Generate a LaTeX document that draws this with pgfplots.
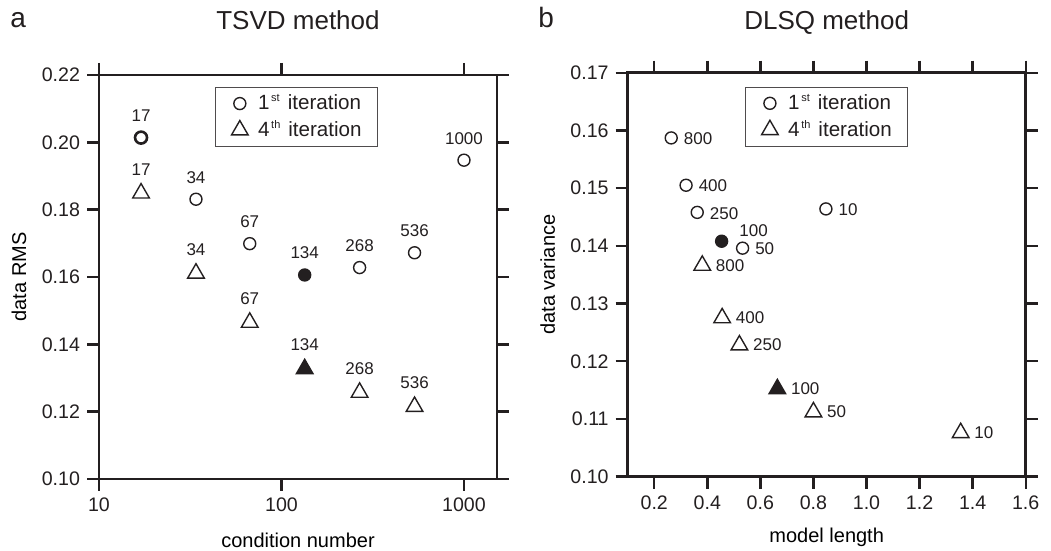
\documentclass[border=0pt]{standalone}
\usepackage{fontspec}
\setmainfont{Liberation Sans}
\usepackage{pgfplots}
\pgfplotsset{compat=1.18}
\definecolor{ink}{RGB}{35,31,32}
\newcommand{\sst}[1]{\hspace{0.8pt}\raisebox{3.8pt}{\fontsize{5.5}{6}\selectfont #1}\hspace{4pt}}
\pgfplotsset{
 myaxis/.style={
  scale only axis, width=199pt, height=202pt,
  axis line style={line width=1.3pt, ink},
  tick align=outside, major tick length=6pt,
  tick style={line width=1.2pt, ink},
  minor tick num=0, xminorticks=false, yminorticks=false,
  ticklabel style={font=\fontsize{9.8}{11}\selectfont, text=ink},
  /pgf/number format/assume math mode=true,
  label style={font=\fontsize{10}{12}\selectfont, text=ink},
  title style={font=\fontsize{13}{15}\selectfont, text=ink, at={(0.5,1)}, anchor=base},
  every axis y label/.style={at={(axis description cs:-0.201,0.5)}, rotate=90, anchor=center},
  every axis x label/.style={at={(axis description cs:0.5,0)}, anchor=center, yshift=-30.5pt},
  legend style={anchor=north west, draw=ink!80, line width=0.5pt,
     inner xsep=8pt, inner ysep=3.5pt, row sep=4pt, column sep=5pt,
     font=\fontsize{10.3}{12}\selectfont, text=ink,
     nodes={inner sep=0pt}},
  legend cell align=left,
  legend image code/.code={\draw[mark repeat=2, mark phase=2, #1] plot coordinates {(0pt,0pt) (5pt,0pt) (10pt,0pt)};},
  clip=false,
  every node near coord/.append style={font=\fontsize{8.5}{10}\selectfont, text=ink, inner sep=0pt},
 },
 circ/.style={only marks, mark=o, mark size=3pt, mark options={line width=0.7pt, draw=ink}},
 tri/.style={only marks, mark=triangle, mark size=4.8pt, mark options={line width=0.7pt, draw=ink}},
}
\begin{document}
\begin{tikzpicture}
\path[use as bounding box] (0,0) rectangle (525.5pt,275.5pt);
\node[anchor=base west, inner sep=0pt, font=\fontsize{14}{16}\selectfont, text=ink] at (5pt,261.5pt) {a};
\node[anchor=base west, inner sep=0pt, font=\fontsize{14}{16}\selectfont, text=ink] at (269pt,261.5pt) {b};

\begin{axis}[myaxis, at={(49.5pt,36pt)}, anchor=south west,
  xmode=log, xmin=10, xmax=1517, ymin=0.10, ymax=0.22,
  xtick={10,100,1000}, xticklabels={10,100,1000},
  ytick={0.10,0.12,0.14,0.16,0.18,0.20,0.22},
  yticklabel style={/pgf/number format/.cd, fixed, fixed zerofill, precision=2},
  title={TSVD method}, title style={yshift=16.5pt},
  xlabel={condition number}, ylabel={data RMS},
  legend style={at={(0.2915,0.970)}}]
\addlegendimage{circ}
\addlegendentry{1\sst{st}iteration}
\addlegendimage{tri}
\addlegendentry{4\sst{th}iteration}
\addplot[circ, forget plot, nodes near coords, point meta=explicit symbolic,
  every node near coord/.append style={anchor=center, yshift=11pt}]
  table[x=x, y=y, meta=l] {
x y l
34 0.1831 34
67 0.1699 67
268 0.1628 268
536 0.1672 536
1000 0.1947 1000
};
\addplot[circ, forget plot, mark options={line width=1.3pt, draw=ink}, nodes near coords, point meta=explicit symbolic,
  every node near coord/.append style={anchor=center, yshift=11pt}]
  table[x=x, y=y, meta=l] {
x y l
17 0.2014 17
};
\addplot[circ, forget plot, mark=*, mark options={line width=0.7pt, draw=ink, fill=ink}, nodes near coords, point meta=explicit symbolic,
  every node near coord/.append style={anchor=center, yshift=11pt}]
  table[x=x, y=y, meta=l] {
x y l
134 0.1606 134
};
\addplot[tri, forget plot, nodes near coords, point meta=explicit symbolic,
  every node near coord/.append style={anchor=center, yshift=12pt}]
  table[x=x, y=y, meta=l] {
x y l
17 0.1849 17
34 0.1611 34
67 0.1465 67
268 0.1257 268
536 0.1215 536
};
\addplot[tri, forget plot, mark=triangle*, mark options={line width=0.7pt, draw=ink, fill=ink}, nodes near coords, point meta=explicit symbolic,
  every node near coord/.append style={anchor=center, yshift=12pt}]
  table[x=x, y=y, meta=l] {
x y l
134 0.1327 134
};
\end{axis}

\begin{axis}[myaxis, at={(313.85pt,37.15pt)}, anchor=south west,
  xmin=0.1, xmax=1.6, ymin=0.10, ymax=0.17,
  xtick={0.2,0.4,0.6,0.8,1.0,1.2,1.4,1.6},
  ytick={0.10,0.11,0.12,0.13,0.14,0.15,0.16,0.17},
  xticklabel style={/pgf/number format/.cd, fixed, fixed zerofill, precision=1},
  yticklabel style={/pgf/number format/.cd, fixed, fixed zerofill, precision=2},
  title={DLSQ method}, title style={yshift=15.7pt},
  xlabel={model length}, ylabel={data variance},
  legend style={at={(0.295,0.965)}}]
\addlegendimage{circ}
\addlegendentry{1\sst{st}iteration}
\addlegendimage{tri}
\addlegendentry{4\sst{th}iteration}
\addplot[circ, forget plot, nodes near coords, point meta=explicit symbolic,
  every node near coord/.append style={anchor=west, xshift=6pt, yshift=-0.4pt}]
  table[x=x, y=y, meta=l] {
x y l
0.264 0.1587 800
0.320 0.1505 400
0.362 0.1458 250
0.533 0.1396 50
0.847 0.1464 10
};
\addplot[circ, forget plot, mark=*, mark options={line width=0.7pt, draw=ink, fill=ink}, nodes near coords, point meta=explicit symbolic,
  every node near coord/.append style={anchor=center, xshift=16pt, yshift=5.3pt}]
  table[x=x, y=y, meta=l] {
x y l
0.454 0.1408 100
};
\addplot[tri, forget plot, nodes near coords, point meta=explicit symbolic,
  every node near coord/.append style={anchor=west, xshift=6.5pt}]
  table[x=x, y=y, meta=l] {
x y l
0.381 0.1366 800
0.456 0.1275 400
0.521 0.1228 250
0.800 0.1112 50
1.355 0.1076 10
};
\addplot[tri, forget plot, mark=triangle*, mark options={line width=0.7pt, draw=ink, fill=ink}, nodes near coords, point meta=explicit symbolic,
  every node near coord/.append style={anchor=west, xshift=6.5pt}]
  table[x=x, y=y, meta=l] {
x y l
0.664 0.1152 100
};
\end{axis}
\end{tikzpicture}
\end{document}
